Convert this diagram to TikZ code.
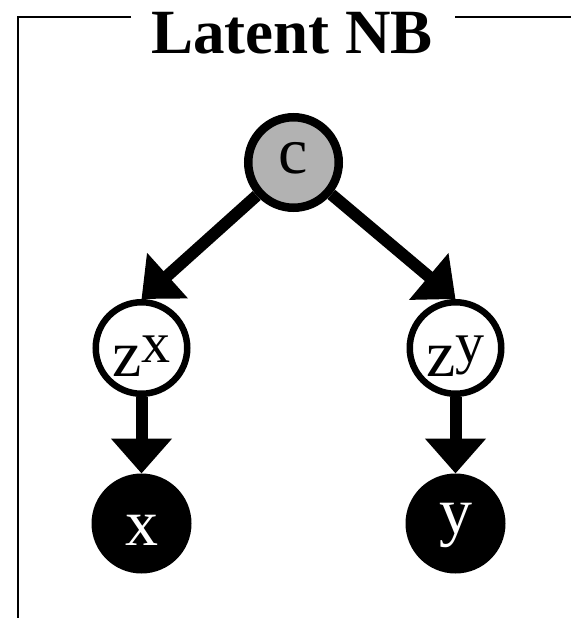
\documentclass[tikz,border=0pt]{standalone}
\usepackage{fontspec}
\setmainfont{Liberation Serif}
\usetikzlibrary{arrows.meta}
\newcommand{\supx}[1]{\raisebox{14pt}{\fontsize{58}{58}\selectfont #1}}
\begin{document}
\begin{tikzpicture}[x=1pt,y=-1pt,
  nodefont/.style={font=\fontsize{66}{66}\selectfont},
  ctxnode/.style={circle, draw=black, fill=black!30, line width=8.5pt, minimum size=90.5pt, inner sep=0pt, nodefont, text height=30pt, text depth=9pt},
  latnode/.style={circle, draw=black, fill=white, line width=6.5pt, minimum size=91.5pt, inner sep=0pt, nodefont, text height=56pt, text depth=0pt},
  obsnode/.style={circle, draw=black, fill=black, text=white, line width=2pt, minimum size=98pt, inner sep=0pt, nodefont},
  conn/.style={line width=12pt, -{Triangle[length=35pt,width=59pt]}},
  frameline/.style={line width=2pt}
]
\useasboundingbox (0,0) rectangle (571,618);
\node[font=\bfseries\fontsize{63}{63}\selectfont, anchor=base, inner sep=0pt] (title) at (292,53) {Latent NB};
\draw[frameline] (131,17.5) -- (17.5,17.5) -- (17.5,618);
\draw[frameline] (455,17.5) -- (571,17.5);

\node[ctxnode] (c) at (293.5,162.5) {c};
\node[latnode] (zx) at (141.5,348) {z\supx{x}};
\node[latnode] (zy) at (455.5,348) {z\supx{y}};
\node[obsnode, text height=43pt, text depth=0pt] (x) at (141.5,523.5) {x};
\node[obsnode, text height=30pt, text depth=10pt] (y) at (455.5,523.5) {y};

\draw[conn] (c) -- (zx.north);
\draw[conn] (c) -- (zy.north);
\draw[conn] (zx) -- (x);
\draw[conn] (zy) -- (y);
\end{tikzpicture}
\end{document}
